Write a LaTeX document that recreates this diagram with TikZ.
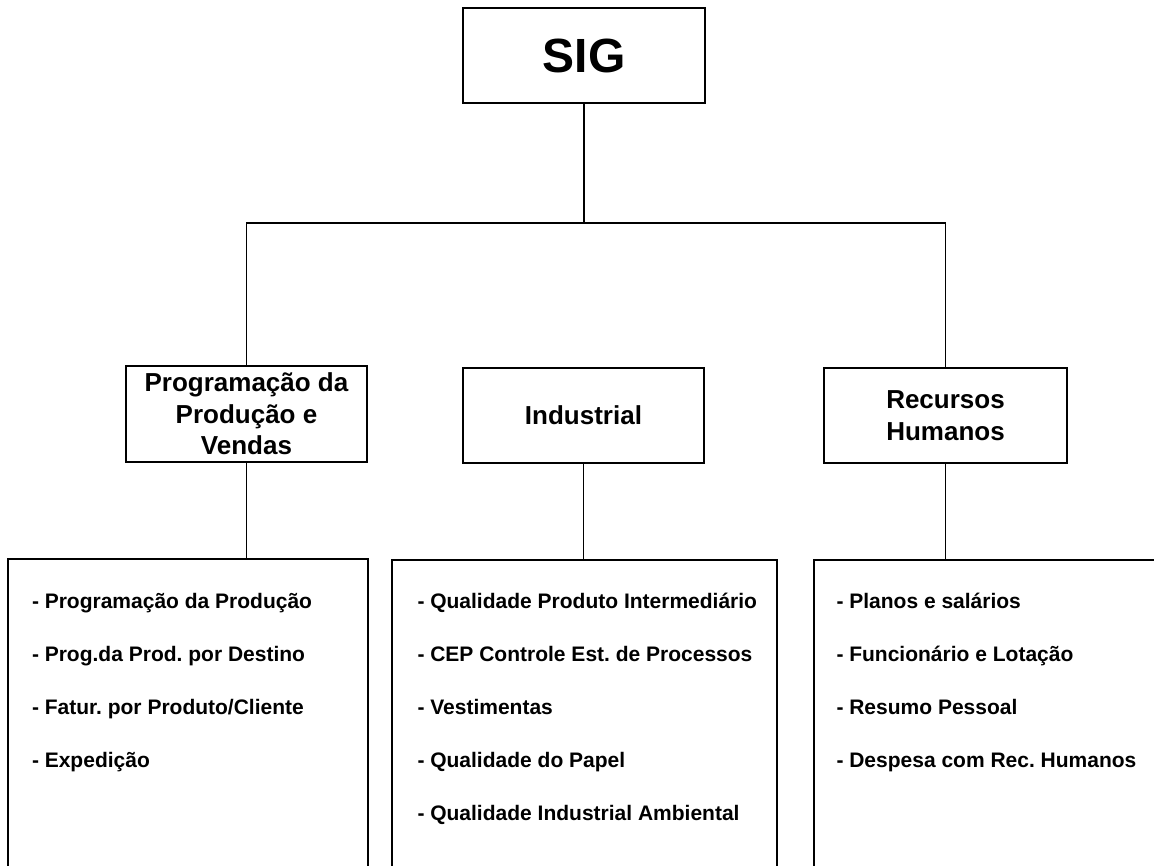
\documentclass[tikz,border=0pt]{standalone}
\usepackage{fontspec}
\setmainfont{Liberation Sans}
\frenchspacing
\begin{document}
\frenchspacing
\begin{tikzpicture}[x=1pt,y=-1pt,
  box/.style={draw,line width=1.6pt,inner sep=0pt,outer sep=0pt,align=center,font=\bfseries\fontsize{26}{31.5}\selectfont},
  con/.style={line width=1.5pt},
  item/.style={anchor=base west,inner sep=0pt,outer sep=0pt,font=\bfseries\fontsize{21}{25}\selectfont\frenchspacing}]
\useasboundingbox (0,0) rectangle (1154,865);
\clip (0,0) rectangle (1154,865);
% top
\node[box,minimum width=242pt,minimum height=95pt,font=\bfseries\fontsize{48}{56}\selectfont] (sig) at (584,55.5) {SIG};
% middle level
\node[box,minimum width=241pt,minimum height=96pt] (prog) at (246.5,414) {Programação da\\Produção e\\Vendas};
\node[box,minimum width=241pt,minimum height=95pt] (ind) at (583.5,415.5) {Industrial};
\node[box,minimum width=243pt,minimum height=95pt] (rh) at (945.5,415.5) {Recursos\\Humanos};
% bottom boxes (open below the picture edge)
\node[box,minimum width=360pt,minimum height=400pt,anchor=north west] (progbox) at (8,559) {};
\node[box,minimum width=385pt,minimum height=400pt,anchor=north west] (indbox) at (392,560) {};
\node[box,minimum width=400pt,minimum height=400pt,anchor=north west] (rhbox) at (814,560) {};
% items
\node[item] (p1) at (32,608) {- Programação da Produção};
\node[item] (p2) at (32,661.5) {- Prog.da Prod. por Destino};
\node[item] (p3) at (32,714.5) {- Fatur. por Produto/Cliente};
\node[item] (p4) at (32,767) {- Expedição};
\node[item] (i1) at (417.5,608) {- Qualidade Produto Intermediário};
\node[item] (i2) at (417.5,661.5) {- CEP Controle Est. de Processos};
\node[item] (i3) at (417.5,714.5) {- Vestimentas};
\node[item] (i4) at (417.5,767) {- Qualidade do Papel};
\node[item] (i5) at (417.5,820.5) {- Qualidade Industrial Ambiental};
\node[item] (r1) at (836.5,608) {- Planos e salários};
\node[item] (r2) at (836.5,661.5) {- Funcionário e Lotação};
\node[item] (r3) at (836.5,714.5) {- Resumo Pessoal};
\node[item] (r4) at (836.5,767) {- Despesa com Rec. Humanos};
% connectors
\coordinate (bus) at (584,223);
\draw[con] (sig.south) -- (bus);
\draw[con] (prog.north) -- (prog.north |- bus) -- (rh.north |- bus) -- (rh.north);
\draw[con] (prog.south) -- (prog.south |- progbox.north);
\draw[con] (ind.south) -- (ind.south |- indbox.north);
\draw[con] (rh.south) -- (rh.south |- rhbox.north);
\end{tikzpicture}
\end{document}
